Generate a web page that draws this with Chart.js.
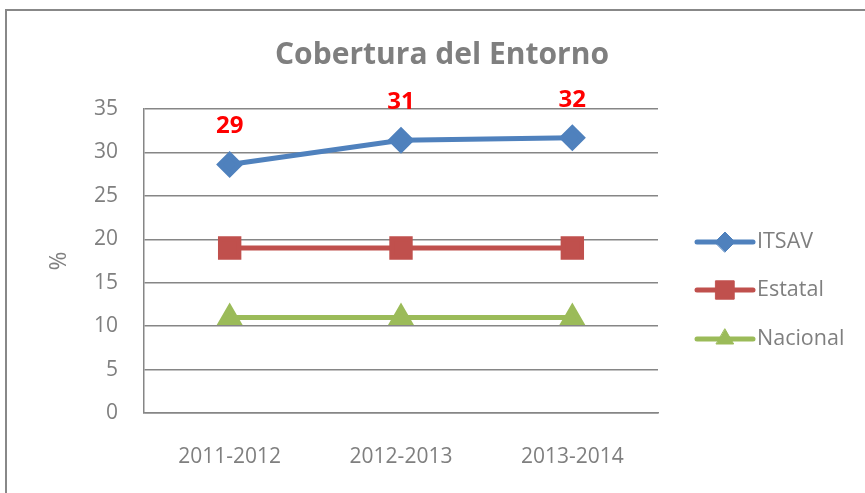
<!DOCTYPE html>
<html>
<head>
<meta charset="utf-8">
<script src="https://cdn.jsdelivr.net/npm/chart.js@4"></script>
<style>
  html, body { margin: 0; padding: 0; background: #fff; overflow: hidden; }
  #frame { position: absolute; left: 5px; top: 9px; width: 900px; height: 600px; border: 2px solid #888; box-sizing: border-box; }
  #wrap { position: absolute; left: 0; top: 0; width: 865px; height: 493px; }
</style>
</head>
<body>
<div id="frame"></div>
<div id="wrap"><canvas id="chartLine"></canvas></div>
<script>
// Datos
const periodos = ['2011-2012', '2012-2013', '2013-2014'];
const itsav = [28.6, 31.4, 31.7];
const estatal = [19, 19, 19];
const nacional = [11, 11, 11];
const yTicks = [0, 5, 10, 15, 20, 25, 30, 35];
const titulo = 'Cobertura del Entorno';

const gris = '#7f7f7f';
const fuente = "'Open Sans', sans-serif";

// titulo centrado sobre todo el grafico
const chartTitle = {
    id: 'chartTitle',
    afterDraw(chart) {
        const ctx = chart.ctx;
        ctx.save();
        ctx.fillStyle = gris;
        ctx.font = "bold 30px " + fuente;
        ctx.textAlign = 'center';
        ctx.textBaseline = 'middle';
        ctx.fillText(titulo, 442, 55);
        ctx.restore();
    }
};

// etiquetas rojas encima de ITSAV
const valueLabels = {
    id: 'valueLabels',
    afterDatasetsDraw(chart) {
        const meta = chart.getDatasetMeta(0);
        const ctx = chart.ctx;
        ctx.save();
        ctx.fillStyle = '#ff0000';
        ctx.font = "bold 24px " + fuente;
        ctx.textAlign = 'center';
        ctx.textBaseline = 'middle';
        meta.data.forEach((pt, i) => {
            ctx.fillText(Math.round(chart.data.datasets[0].data[i]), pt.x, pt.y - 38);
        });
        ctx.restore();
    }
};

// leyenda a la derecha con linea y marcador
const sideLegend = {
    id: 'sideLegend',
    afterDraw(chart) {
        const ctx = chart.ctx;
        const x0 = 697, x1 = 753;
        const ys = [242, 290, 339];
        ctx.save();
        chart.data.datasets.forEach((ds, i) => {
            const y = ys[i];
            ctx.strokeStyle = ds.borderColor;
            ctx.lineWidth = ds.borderWidth;
            ctx.lineCap = 'round';
            ctx.beginPath();
            ctx.moveTo(x0, y);
            ctx.lineTo(x1, y);
            ctx.stroke();
            ctx.fillStyle = ds.pointBackgroundColor;
            ctx.strokeStyle = ds.pointBorderColor;
            ctx.lineWidth = 1;
            Chart.helpers.drawPoint(ctx, { pointStyle: ds.pointStyle, radius: ds.pointRadius, borderWidth: 1, rotation: 0 }, (x0 + x1) / 2, y);
            ctx.fillStyle = gris;
            ctx.font = "21.5px " + fuente;
            ctx.textAlign = 'left';
            ctx.textBaseline = 'middle';
            ctx.fillText(ds.label, x1 + 4, y);
        });
        ctx.restore();
    }
};

const cvs = document.getElementById('chartLine').getContext('2d');
const chart = new Chart(cvs, {
    type: 'line',
    data: {
        labels: periodos,
        datasets: [{
            label: 'ITSAV',
            data: itsav,
            borderColor: '#4f81bd',
            backgroundColor: '#4f81bd',
            pointBackgroundColor: '#4f81bd',
            pointBorderColor: '#4f81bd',
            borderWidth: 5,
            pointStyle: 'rectRot',
            pointRadius: 10
        }, {
            label: 'Estatal',
            data: estatal,
            borderColor: '#c0504d',
            backgroundColor: '#c0504d',
            pointBackgroundColor: '#c0504d',
            pointBorderColor: '#c0504d',
            borderWidth: 5,
            pointStyle: 'rect',
            pointRadius: 13
        }, {
            label: 'Nacional',
            data: nacional,
            borderColor: '#9bbb59',
            backgroundColor: '#9bbb59',
            pointBackgroundColor: '#9bbb59',
            pointBorderColor: '#9bbb59',
            borderWidth: 5,
            pointStyle: 'triangle',
            pointRadius: 10
        }]
    },
    plugins: [chartTitle, valueLabels, sideLegend],
    options: {
        responsive: true,
        maintainAspectRatio: false,
        animation: false,
        layout: { padding: { left: 0, right: 207, top: 109, bottom: 0 } },
        scales: {
            x: {
                offset: true,
                grid: { display: false, drawTicks: false },
                border: { color: '#868686', width: 1.5 },
                ticks: { color: gris, font: { family: fuente, size: 21 }, padding: 31 },
                afterFit: (scale) => { scale.height = 80; }
            },
            y: {
                min: 0,
                max: 35,
                afterBuildTicks: (scale) => { scale.ticks = yTicks.map(v => ({ value: v })); },
                grid: { color: '#868686', lineWidth: 1.5, drawTicks: false },
                border: { color: '#868686', width: 1.5 },
                ticks: { color: gris, font: { family: fuente, size: 21 }, padding: 26 },
                title: { display: true, text: '%', color: gris, font: { family: fuente, size: 23 }, padding: { top: 46, bottom: 0 } },
                afterFit: (scale) => { scale.width = 144; }
            }
        },
        plugins: {
            legend: { display: false },
            tooltip: { enabled: false },
            title: { display: false }
        }
    }
});
</script>
</body>
</html>
